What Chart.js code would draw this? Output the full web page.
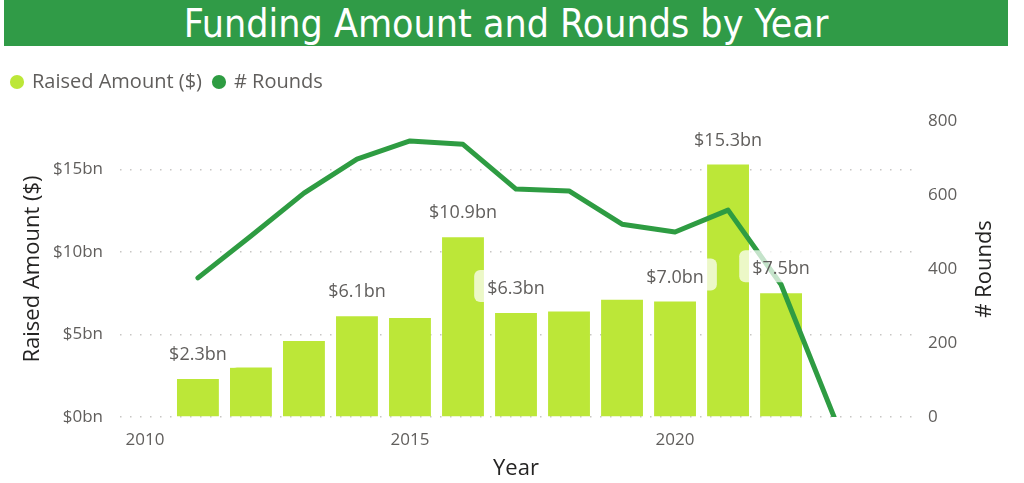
<!DOCTYPE html>
<html>
<head>
<meta charset="utf-8">
<script src="https://cdn.jsdelivr.net/npm/chart.js@4.4.0/dist/chart.umd.min.js"></script>
<style>
  body { margin: 0; background: #fff; width: 1024px; height: 483px; overflow: hidden; position: relative; }
  #titleBar {
    position: absolute; left: 4px; top: 0; width: 1004px; height: 46px;
    background: #309b47; color: #fff;
    font-family: "DejaVu Sans Condensed", "DejaVu Sans", sans-serif;
    font-size: 39px; line-height: 48px; text-align: center;
  }
  #wrap { position: absolute; left: 0; top: 46px; width: 1024px; height: 437px; }
</style>
</head>
<body>
<div id="titleBar">Funding Amount and Rounds by Year</div>
<div id="wrap"><canvas id="fundingChart"></canvas></div>
<script>
// DATOS DE LA GRAFICA
const years = [2011, 2012, 2013, 2014, 2015, 2016, 2017, 2018, 2019, 2020, 2021, 2022];
const raisedBn = [2.3, 3.0, 4.6, 6.1, 6.0, 10.9, 6.3, 6.4, 7.1, 7.0, 15.3, 7.5];
const roundYears = [2011, 2012, 2013, 2014, 2015, 2016, 2017, 2018, 2019, 2020, 2021, 2022, 2023];
const rounds = [376, 489, 605, 697, 746, 737, 616, 611, 521, 500, 559, 358, 0];
const labelledYears = [2011, 2014, 2016, 2017, 2020, 2021, 2022];
const yearTicks = [2010, 2015, 2020];
const amountTicks = [0, 5, 10, 15];
const roundTicks = [0, 200, 400, 600, 800];

const GREY = '#605E5C';
const DARK = '#252423';
const FONT = '"Open Sans", "Noto Sans", sans-serif';

// ETIQUETAS DE LAS BARRAS (con su fondo blanco translucido)
const barLabels = {
  id: 'barLabels',
  afterDatasetsDraw(chart) {
    const ctx = chart.ctx;
    const meta = chart.getDatasetMeta(0);
    ctx.save();
    ctx.font = '18px ' + FONT;
    ctx.textAlign = 'center';
    ctx.textBaseline = 'middle';
    meta.data.forEach((bar, i) => {
      if (!labelledYears.includes(years[i])) return;
      const text = '$' + raisedBn[i].toFixed(1) + 'bn';
      const w = ctx.measureText(text).width + 26;
      ctx.fillStyle = 'rgba(255,255,255,0.72)';
      ctx.beginPath();
      ctx.roundRect(bar.x - w / 2, bar.y - 43, w, 32, 6);
      ctx.fill();
      ctx.fillStyle = GREY;
      ctx.fillText(text, bar.x, bar.y - 24);
    });
    ctx.restore();
  }
};

// TITULO DEL EJE DERECHO (leido de abajo hacia arriba, como el izquierdo)
const rightTitle = {
  id: 'rightTitle',
  afterDraw(chart) {
    const ctx = chart.ctx;
    const area = chart.chartArea;
    ctx.save();
    ctx.translate(chart.scales.y1.right - 39, (area.top + area.bottom) / 2);
    ctx.rotate(-Math.PI / 2);
    ctx.font = '22px ' + FONT;
    ctx.fillStyle = DARK;
    ctx.textAlign = 'center';
    ctx.textBaseline = 'middle';
    ctx.fillText('# Rounds', 0, 0);
    ctx.restore();
  }
};

const ctx = document.getElementById('fundingChart').getContext('2d');
const fundingChart = new Chart(ctx, {
  data: {
    datasets: [{
      type: 'bar',
      label: 'Raised Amount ($)',
      data: years.map((y, i) => ({ x: y, y: raisedBn[i] })),
      backgroundColor: '#bce738',
      barPercentage: 0.79,
      categoryPercentage: 1.0,
      yAxisID: 'y',
      order: 1
    }, {
      type: 'line',
      label: '# Rounds',
      data: roundYears.map((y, i) => ({ x: y, y: rounds[i] })),
      borderColor: '#2e9c42',
      backgroundColor: '#2e9c42',
      borderWidth: 5,
      borderCapStyle: 'round',
      borderJoinStyle: 'round',
      pointRadius: 0,
      tension: 0,
      yAxisID: 'y1',
      order: 0
    }]
  },
  options: {
    responsive: true,
    maintainAspectRatio: false,
    animation: false,
    layout: { padding: { top: 14, left: 0, right: 0, bottom: 0 } },
    plugins: {
      tooltip: { enabled: false },
      legend: {
        position: 'top',
        align: 'start',
        labels: {
          usePointStyle: true,
          pointStyle: 'circle',
          boxWidth: 10,
          boxHeight: 10,
          color: GREY,
          font: { family: FONT, size: 20 },
          padding: 12,
          sort: (a, b) => a.datasetIndex - b.datasetIndex,
          generateLabels: chart => Chart.defaults.plugins.legend.labels.generateLabels(chart)
            .map(item => ({ ...item, lineWidth: 0 }))
        }
      },
      // espacio entre la leyenda y la grafica
      subtitle: { display: true, text: '', weight: 500, font: { size: 10, lineHeight: 1 }, padding: { top: 9, bottom: 0 } }
    },
    scales: {
      x: {
        type: 'linear',
        min: 2009.53,
        max: 2024.47,
        offset: false,
        grid: { display: false, drawTicks: false },
        border: { display: false },
        afterBuildTicks: s => { s.ticks = yearTicks.map(v => ({ value: v })); },
        afterFit: s => { s.height = 66; },
        ticks: {
          color: GREY, font: { family: FONT, size: 17 }, padding: 13, maxRotation: 0,
          callback: v => String(v)
        },
        title: { display: true, text: 'Year', color: DARK, font: { family: FONT, size: 22 }, padding: { top: 0, bottom: 1 } }
      },
      y: {
        position: 'left',
        min: 0,
        max: 17.94,
        afterBuildTicks: s => { s.ticks = amountTicks.map(v => ({ value: v })); },
        afterFit: s => { s.width = 120; },
        grid: { color: '#c8c6c4', lineWidth: 1.5, drawTicks: false },
        border: { display: false, dash: [1.5, 8.5] },
        ticks: { color: GREY, font: { family: FONT, size: 17 }, padding: 17, callback: v => '$' + v + 'bn' },
        title: { display: true, text: 'Raised Amount ($)', color: DARK, font: { family: FONT, size: 22 }, padding: { top: 20, bottom: 0 } }
      },
      y1: {
        position: 'right',
        min: 0,
        max: 800,
        afterBuildTicks: s => { s.ticks = roundTicks.map(v => ({ value: v })); },
        afterFit: s => { s.width = 112; },
        grid: { display: false, drawTicks: false },
        border: { display: false },
        ticks: { color: GREY, font: { family: FONT, size: 17 }, padding: 16 }
      }
    }
  },
  plugins: [barLabels, rightTitle]
});
</script>
</body>
</html>
